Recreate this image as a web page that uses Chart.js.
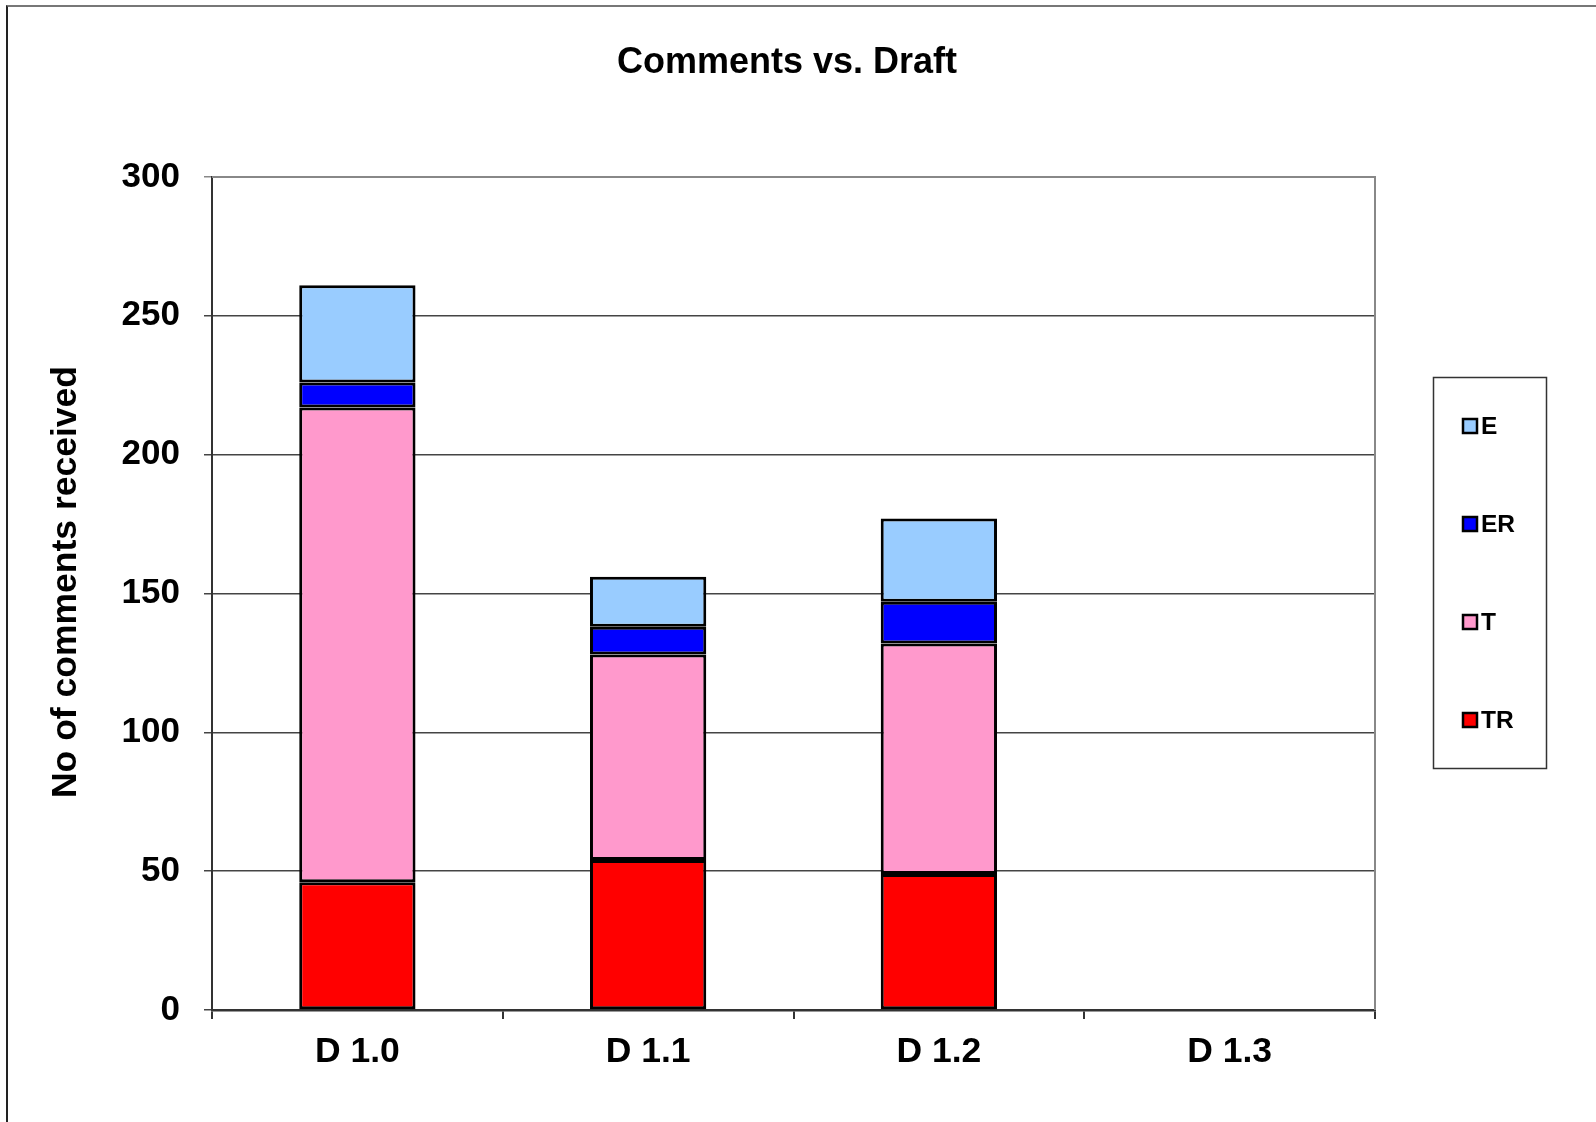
<!DOCTYPE html>
<html>
<head>
<meta charset="utf-8">
<title>Comments vs. Draft</title>
<script src="https://cdn.jsdelivr.net/npm/chart.js@4.4.1/dist/chart.umd.min.js"></script>
<style>
  html, body { margin: 0; padding: 0; background: #fff; overflow: hidden; }
  #wrap { position: relative; width: 1596px; height: 1122px; }
  #frame { position: absolute; left: 6px; top: 5px; width: 1700px; height: 1200px;
           border-left: 2px solid #222; border-top: 2px solid #777; }
  canvas { position: absolute; left: 0; top: 0; }
</style>
</head>
<body>
<div id="wrap">
  <div id="frame"></div>
  <canvas id="barChart" width="1596" height="1122"></canvas>
</div>
<script>
var chartTitle = 'Comments vs. Draft';
var axisTitle = 'No of comments received';
var drafts = ['D 1.0', 'D 1.1', 'D 1.2', 'D 1.3'];
var valuesTR = [46, 54, 49, 0];
var valuesT = [171, 74, 83, 0];
var valuesER = [9, 10, 15, 0];
var valuesE = [35, 18, 30, 0];

var fontFamily = '"Liberation Sans", Arial, sans-serif';

// title, right/top frame of the plot area and the boxed legend
var extras = {
    id: 'extras',
    beforeDatasetsDraw: function(chart) {
        var ctx = chart.ctx, a = chart.chartArea;
        ctx.save();
        ctx.strokeStyle = '#888';
        ctx.lineWidth = 2;
        ctx.beginPath();
        ctx.moveTo(a.left, a.top);
        ctx.lineTo(a.right, a.top);
        ctx.lineTo(a.right, a.bottom);
        ctx.stroke();
        ctx.restore();
    },
    afterDraw: function(chart) {
        var ctx = chart.ctx;
        ctx.save();
        ctx.fillStyle = '#000';
        ctx.font = 'bold 36px ' + fontFamily;
        ctx.textAlign = 'center';
        ctx.textBaseline = 'middle';
        ctx.fillText(chartTitle, 787, 63);

        // y axis title
        ctx.save();
        ctx.translate(66, 582);
        ctx.rotate(-Math.PI / 2);
        ctx.font = 'bold 35.5px ' + fontFamily;
        ctx.fillText(axisTitle, 0, 0);
        ctx.restore();

        // legend
        ctx.strokeStyle = '#333';
        ctx.lineWidth = 1.5;
        ctx.strokeRect(1433.5, 377.5, 113, 391);
        ctx.font = 'bold 24.5px ' + fontFamily;
        ctx.textAlign = 'left';
        var sets = chart.data.datasets.slice().reverse();
        sets.forEach(function(ds, i) {
            var y = 426 + i * 98;
            ctx.fillStyle = ds.backgroundColor;
            ctx.fillRect(1463, y - 7, 14, 14);
            ctx.strokeStyle = '#000';
            ctx.lineWidth = 2.5;
            ctx.strokeRect(1463, y - 7, 14, 14);
            ctx.fillStyle = '#000';
            ctx.fillText(ds.label, 1481, y + 1);
        });
        ctx.restore();
    }
};

var ctxBar = document.getElementById('barChart').getContext('2d');
var barChart = new Chart(ctxBar, {
    type: 'bar',
    data: {
        labels: drafts,
        datasets: [
            { label: 'TR', data: valuesTR, backgroundColor: '#FF0000' },
            { label: 'T', data: valuesT, backgroundColor: '#FF99CC' },
            { label: 'ER', data: valuesER, backgroundColor: '#0000FF' },
            { label: 'E', data: valuesE, backgroundColor: '#99CCFF' }
        ]
    },
    options: {
        responsive: false,
        animation: false,
        devicePixelRatio: 1,
        layout: { padding: { left: 10, right: 221, top: 177, bottom: 0 } },
        datasets: {
            bar: {
                borderColor: '#000',
                borderWidth: 3,
                borderSkipped: false,
                categoryPercentage: 1.0,
                barPercentage: 0.4
            }
        },
        plugins: {
            legend: { display: false },
            title: { display: false },
            tooltip: { enabled: false }
        },
        scales: {
            x: {
                stacked: true,
                afterFit: function(scale) { scale.height = 112; },
                grid: {
                    offset: true,
                    drawOnChartArea: false,
                    tickLength: 9,
                    color: '#333',
                    lineWidth: 2
                },
                border: { color: '#333', width: 2.5 },
                ticks: {
                    color: '#000',
                    padding: 12,
                    font: { family: fontFamily, size: 35.5, weight: 'bold' }
                }
            },
            y: {
                stacked: true,
                min: 0,
                max: 300,
                afterFit: function(scale) { scale.width = 202; },
                ticks: {
                    stepSize: 50,
                    color: '#000',
                    padding: 24,
                    font: { family: fontFamily, size: 35, weight: 'bold' }
                },
                grid: {
                    tickLength: 8,
                    color: function(c) { return c.tick && c.tick.value === 300 ? '#888' : '#444'; },
                    lineWidth: 1.5
                },
                border: { color: '#333', width: 2 }
            }
        }
    },
    plugins: [extras]
});
</script>
</body>
</html>
